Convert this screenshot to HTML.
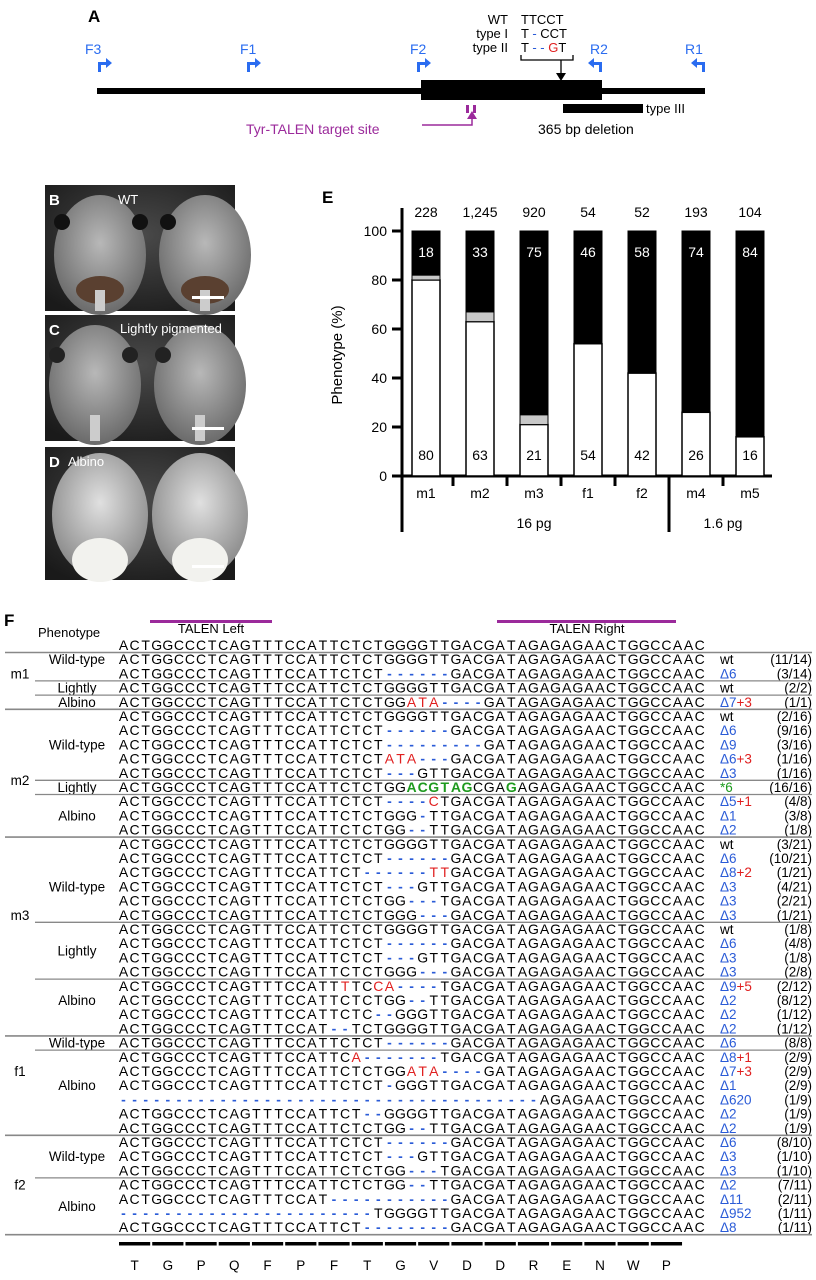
<!DOCTYPE html>
<html><head><meta charset="utf-8"><style>
html,body{margin:0;padding:0;background:#fff;}
svg{display:block;font-family:"Liberation Sans",Arial,sans-serif;}
</style></head><body>
<svg id="fig" width="816" height="1280" viewBox="0 0 816 1280" xmlns="http://www.w3.org/2000/svg">
<defs>
<radialGradient id="bgB" cx="50%" cy="40%" r="70%"><stop offset="0" stop-color="#4a4a4a"/><stop offset="1" stop-color="#1a1a1a"/></radialGradient>
<radialGradient id="headB" cx="50%" cy="40%" r="60%"><stop offset="0" stop-color="#b8b8b8"/><stop offset="1" stop-color="#6a6a6a"/></radialGradient>
<radialGradient id="headD" cx="50%" cy="40%" r="60%"><stop offset="0" stop-color="#e0e0e0"/><stop offset="1" stop-color="#8a8a8a"/></radialGradient>
</defs>

<!-- Panel A -->
<g>
<text x="88" y="22" font-size="17" font-weight="bold">A</text>
<rect x="97" y="88" width="608" height="6" fill="#000"/>
<rect x="421" y="80" width="181" height="20" fill="#000"/>
<g font-size="13" fill="#000" text-anchor="end">
<text x="508" y="24">WT</text><text x="508" y="38">type I</text><text x="508" y="52">type II</text></g>
<g font-size="13" fill="#000">
<text x="521" y="24">TTCCT</text>
<text x="521" y="38">T <tspan fill="#2a5bd7">-</tspan> CCT</text>
<text x="521" y="52">T <tspan fill="#2a5bd7">- -</tspan> <tspan fill="#e02020">G</tspan>T</text></g>
<path d="M521 55 V60 H573 V55 M561 60 V75" stroke="#000" stroke-width="1.3" fill="none"/>
<path d="M556 73 L566 73 L561 81 Z" fill="#000"/>
<g fill="#2a6cf0" font-size="14">
<text x="85" y="54">F3</text><text x="240" y="54">F1</text><text x="410" y="54">F2</text><text x="590" y="54">R2</text><text x="685" y="54">R1</text>
<path d="M98 72 V62 H106 V58 L112 63 L106 68 V65 H101 V72 Z"/>
<path d="M247 72 V62 H255 V58 L261 63 L255 68 V65 H250 V72 Z"/>
<path d="M417 72 V62 H425 V58 L431 63 L425 68 V65 H420 V72 Z"/>
<path d="M602 72 V62 H594 V58 L588 63 L594 68 V65 H599 V72 Z"/>
<path d="M705 72 V62 H697 V58 L691 63 L697 68 V65 H702 V72 Z"/></g>
<rect x="466" y="105" width="3" height="8" fill="#9b2a9b"/>
<rect x="473" y="105" width="3" height="8" fill="#9b2a9b"/>
<path d="M422 125 H472 V117" stroke="#9b2a9b" stroke-width="1.5" fill="none"/>
<path d="M467 119 L472 111 L477 119 Z" fill="#9b2a9b"/>
<text x="246" y="134" font-size="14" fill="#9b2a9b">Tyr-TALEN target site</text>
<rect x="563" y="104" width="80" height="9" fill="#000"/>
<text x="646" y="113" font-size="13">type III</text>
<text x="538" y="134" font-size="14">365 bp deletion</text>
</g>

<!-- Photos -->
<g>
<rect x="45" y="185" width="190" height="126" fill="url(#bgB)"/>
<ellipse cx="100" cy="255" rx="46" ry="60" fill="url(#headB)"/><ellipse cx="205" cy="255" rx="46" ry="60" fill="url(#headB)"/>
<circle cx="62" cy="222" r="8" fill="#111"/><circle cx="140" cy="222" r="8" fill="#111"/><circle cx="168" cy="222" r="8" fill="#111"/>
<ellipse cx="100" cy="290" rx="24" ry="14" fill="#5a4030"/><ellipse cx="205" cy="290" rx="24" ry="14" fill="#5a4030"/>
<rect x="95" y="290" width="10" height="21" fill="#ccc"/><rect x="200" y="290" width="10" height="21" fill="#ccc"/>
<rect x="192" y="296" width="32" height="3" fill="#fff"/>
<text x="49" y="205" font-size="15" font-weight="bold" fill="#fff">B</text>
<text x="118" y="204" font-size="13" fill="#fff">WT</text></g>
<g>
<rect x="45" y="315" width="190" height="126" fill="url(#bgB)"/>
<ellipse cx="95" cy="385" rx="46" ry="60" fill="url(#headB)"/><ellipse cx="200" cy="385" rx="46" ry="60" fill="url(#headB)"/>
<circle cx="57" cy="355" r="8" fill="#222"/><circle cx="130" cy="355" r="8" fill="#222"/><circle cx="163" cy="355" r="8" fill="#222"/>
<rect x="90" y="415" width="10" height="26" fill="#ccc"/><rect x="195" y="415" width="10" height="26" fill="#ccc"/>
<rect x="192" y="427" width="32" height="3" fill="#fff"/>
<text x="49" y="335" font-size="15" font-weight="bold" fill="#fff">C</text>
<text x="120" y="333" font-size="13" fill="#fff">Lightly pigmented</text></g>
<g>
<rect x="45" y="447" width="190" height="133" fill="url(#bgB)"/>
<ellipse cx="100" cy="515" rx="48" ry="62" fill="url(#headD)"/><ellipse cx="200" cy="515" rx="48" ry="62" fill="url(#headD)"/>
<ellipse cx="100" cy="560" rx="28" ry="22" fill="#f2f2ee"/><ellipse cx="200" cy="560" rx="28" ry="22" fill="#f2f2ee"/>
<rect x="192" y="565" width="32" height="3" fill="#fff"/>
<text x="49" y="467" font-size="15" font-weight="bold" fill="#fff">D</text>
<text x="68" y="466" font-size="13" fill="#fff">Albino</text></g>

<!-- Panel E -->
<g id="chartE">
<text x="322" y="203" font-size="17" font-weight="bold">E</text>
</g>

<!-- Panel F -->
<g id="panelF">
<text x="4" y="626" font-size="17" font-weight="bold">F</text>
<text x="38" y="637" font-size="13">Phenotype</text>
<rect x="150" y="620" width="122" height="3" fill="#9b2a9b"/>
<text x="211" y="633" font-size="13" text-anchor="middle">TALEN Left</text>
<rect x="497" y="620" width="179" height="3" fill="#9b2a9b"/>
<text x="587" y="633" font-size="13" text-anchor="middle">TALEN Right</text>
</g>
</svg>
<script>
// ---------- Panel E data ----------
const groups=['m1','m2','m3','f1','f2','m4','m5'];
const totals=['228','1,245','920','54','52','193','104'];
const wildType=[80,63,21,54,42,26,16];
const lightly=[2,4,4,0,0,0,0];
const albino=[18,33,75,46,58,74,84];
const yTicks=[0,20,40,60,80,100];

const NS='http://www.w3.org/2000/svg';
function mk(tag,attrs,parent,txt){const e=document.createElementNS(NS,tag);for(const k in attrs)e.setAttribute(k,attrs[k]);if(txt!==undefined)e.textContent=txt;parent.appendChild(e);return e;}
const E=document.getElementById('chartE');
const yS=v=>476-v*2.45;
const xC=i=>426+i*54;
const bw=28;
let ax=mk('path',{d:'M402 208 V532 M392 476 H772',stroke:'#000','stroke-width':3,fill:'none'},E);


yTicks.forEach(t=>{
  const tk=mk('line',{x1:392,x2:402,y1:yS(t),y2:yS(t),stroke:'#000','stroke-width':3},E);
  
  
  const tl=mk('text',{x:387,y:yS(t)+5,'font-size':14,'text-anchor':'end'},E,String(t));
  
  
});
const yl=mk('text',{x:342,y:355,'font-size':15,'text-anchor':'middle',transform:'rotate(-90 342 355)'},E,'Phenotype (%)');


groups.forEach((g,i)=>{
  const x=xC(i)-bw/2;
  const w=wildType[i], l=lightly[i], a=albino[i];
  const r1=mk('rect',{x:x,y:yS(w),width:bw,height:yS(0)-yS(w),fill:'#fff',stroke:'#000','stroke-width':1.5},E);
  
  
  if(l>0){const r2=mk('rect',{x:x,y:yS(w+l),width:bw,height:yS(w)-yS(w+l),fill:'#c8c8c8',stroke:'#000','stroke-width':1},E);
  
  }
  const r3=mk('rect',{x:x,y:yS(w+l+a),width:bw,height:yS(w+l)-yS(w+l+a),fill:'#000',stroke:'#000','stroke-width':1},E);
  
  
  const t1=mk('text',{x:xC(i),y:217,'font-size':14,'text-anchor':'middle'},E,totals[i]);
  
  
  const t2=mk('text',{x:xC(i),y:257,'font-size':14,'text-anchor':'middle',fill:'#fff'},E,String(a));
  
  
  const t3=mk('text',{x:xC(i),y:460,'font-size':14,'text-anchor':'middle'},E,String(w));
  
  
  const t4=mk('text',{x:xC(i),y:498,'font-size':14,'text-anchor':'middle'},E,g);
  
  
  if(i>0){const sx=(xC(i-1)+xC(i))/2;
    const tk=mk('line',{x1:sx,x2:sx,y1:476,y2:(i===5?532:486),stroke:'#000','stroke-width':3},E);
    
    }
});
const d1=mk('text',{x:(xC(0)+xC(4))/2,y:528,'font-size':14,'text-anchor':'middle'},E,'16 pg');


const d2=mk('text',{x:(xC(5)+xC(6))/2,y:528,'font-size':14,'text-anchor':'middle'},E,'1.6 pg');



// ---------- Panel F data ----------
const refSeq='ACTGGCCCTCAGTTTCCATTCTCTGGGGTTGACGATAGAGAGAACTGGCCAAC';
const seqRows=[
['ACTGGCCCTCAGTTTCCATTCTCTGGGGTTGACGATAGAGAGAACTGGCCAAC','wt','','(11/14)'],
['ACTGGCCCTCAGTTTCCATTCTCT------GACGATAGAGAGAACTGGCCAAC','Δ6','','(3/14)'],
['ACTGGCCCTCAGTTTCCATTCTCTGGGGTTGACGATAGAGAGAACTGGCCAAC','wt','','(2/2)'],
['ACTGGCCCTCAGTTTCCATTCTCTGGata----GATAGAGAGAACTGGCCAAC','Δ7','+3','(1/1)'],
['ACTGGCCCTCAGTTTCCATTCTCTGGGGTTGACGATAGAGAGAACTGGCCAAC','wt','','(2/16)'],
['ACTGGCCCTCAGTTTCCATTCTCT------GACGATAGAGAGAACTGGCCAAC','Δ6','','(9/16)'],
['ACTGGCCCTCAGTTTCCATTCTCT---------GATAGAGAGAACTGGCCAAC','Δ9','','(3/16)'],
['ACTGGCCCTCAGTTTCCATTCTCTata---GACGATAGAGAGAACTGGCCAAC','Δ6','+3','(1/16)'],
['ACTGGCCCTCAGTTTCCATTCTCT---GTTGACGATAGAGAGAACTGGCCAAC','Δ3','','(1/16)'],
['ACTGGCCCTCAGTTTCCATTCTCTGG[ACGTAG]CGA[G]AGAGAGAACTGGCCAAC','*6','','(16/16)'],
['ACTGGCCCTCAGTTTCCATTCTCT----cTGACGATAGAGAGAACTGGCCAAC','Δ5','+1','(4/8)'],
['ACTGGCCCTCAGTTTCCATTCTCTGGG-TTGACGATAGAGAGAACTGGCCAAC','Δ1','','(3/8)'],
['ACTGGCCCTCAGTTTCCATTCTCTGG--TTGACGATAGAGAGAACTGGCCAAC','Δ2','','(1/8)'],
['ACTGGCCCTCAGTTTCCATTCTCTGGGGTTGACGATAGAGAGAACTGGCCAAC','wt','','(3/21)'],
['ACTGGCCCTCAGTTTCCATTCTCT------GACGATAGAGAGAACTGGCCAAC','Δ6','','(10/21)'],
['ACTGGCCCTCAGTTTCCATTCT------ttGACGATAGAGAGAACTGGCCAAC','Δ8','+2','(1/21)'],
['ACTGGCCCTCAGTTTCCATTCTCT---GTTGACGATAGAGAGAACTGGCCAAC','Δ3','','(4/21)'],
['ACTGGCCCTCAGTTTCCATTCTCTGG---TGACGATAGAGAGAACTGGCCAAC','Δ3','','(2/21)'],
['ACTGGCCCTCAGTTTCCATTCTCTGGG---GACGATAGAGAGAACTGGCCAAC','Δ3','','(1/21)'],
['ACTGGCCCTCAGTTTCCATTCTCTGGGGTTGACGATAGAGAGAACTGGCCAAC','wt','','(1/8)'],
['ACTGGCCCTCAGTTTCCATTCTCT------GACGATAGAGAGAACTGGCCAAC','Δ6','','(4/8)'],
['ACTGGCCCTCAGTTTCCATTCTCT---GTTGACGATAGAGAGAACTGGCCAAC','Δ3','','(1/8)'],
['ACTGGCCCTCAGTTTCCATTCTCTGGG---GACGATAGAGAGAACTGGCCAAC','Δ3','','(2/8)'],
['ACTGGCCCTCAGTTTCCATTtTCca----TGACGATAGAGAGAACTGGCCAAC','Δ9','+5','(2/12)'],
['ACTGGCCCTCAGTTTCCATTCTCTGG--TTGACGATAGAGAGAACTGGCCAAC','Δ2','','(8/12)'],
['ACTGGCCCTCAGTTTCCATTCTC--GGGTTGACGATAGAGAGAACTGGCCAAC','Δ2','','(1/12)'],
['ACTGGCCCTCAGTTTCCAT--TCTGGGGTTGACGATAGAGAGAACTGGCCAAC','Δ2','','(1/12)'],
['ACTGGCCCTCAGTTTCCATTCTCT------GACGATAGAGAGAACTGGCCAAC','Δ6','','(8/8)'],
['ACTGGCCCTCAGTTTCCATTCa-------TGACGATAGAGAGAACTGGCCAAC','Δ8','+1','(2/9)'],
['ACTGGCCCTCAGTTTCCATTCTCTGGata----GATAGAGAGAACTGGCCAAC','Δ7','+3','(2/9)'],
['ACTGGCCCTCAGTTTCCATTCTCT-GGGTTGACGATAGAGAGAACTGGCCAAC','Δ1','','(2/9)'],
['--------------------------------------AGAGAACTGGCCAAC','Δ620','','(1/9)'],
['ACTGGCCCTCAGTTTCCATTCT--GGGGTTGACGATAGAGAGAACTGGCCAAC','Δ2','','(1/9)'],
['ACTGGCCCTCAGTTTCCATTCTCTGG--TTGACGATAGAGAGAACTGGCCAAC','Δ2','','(1/9)'],
['ACTGGCCCTCAGTTTCCATTCTCT------GACGATAGAGAGAACTGGCCAAC','Δ6','','(8/10)'],
['ACTGGCCCTCAGTTTCCATTCTCT---GTTGACGATAGAGAGAACTGGCCAAC','Δ3','','(1/10)'],
['ACTGGCCCTCAGTTTCCATTCTCTGG---TGACGATAGAGAGAACTGGCCAAC','Δ3','','(1/10)'],
['ACTGGCCCTCAGTTTCCATTCTCTGG--TTGACGATAGAGAGAACTGGCCAAC','Δ2','','(7/11)'],
['ACTGGCCCTCAGTTTCCAT-----------GACGATAGAGAGAACTGGCCAAC','Δ11','','(2/11)'],
['-----------------------TGGGGTTGACGATAGAGAGAACTGGCCAAC','Δ952','','(1/11)'],
['ACTGGCCCTCAGTTTCCATTCT--------GACGATAGAGAGAACTGGCCAAC','Δ8','','(1/11)']
];
const mouseLabels=[['m1',2],['m2',9.5],['m3',19],['f1',30],['f2',38]];
const phenoLabels=[['Wild-type',1],['Lightly',3],['Albino',4],['Wild-type',7],['Lightly',10],['Albino',12],['Wild-type',17],['Lightly',21.5],['Albino',25],['Wild-type',28],['Albino',31],['Wild-type',36],['Albino',39.5]];
const fullLinesAfter=[0,4,13,27,34,41];
const subLinesAfter=[2,3,9,10,19,23,28,37];
const aminoAcids=['T','G','P','Q','F','P','F','T','G','V','D','D','R','E','N','W','P'];

const F=document.getElementById('panelF');
const rowY=i=>645+i*14.2;
const cx=j=>118+5.5+j*11.08;
function drawSeq(s,i,name){
  const t=mk('text',{y:rowY(i)+5,'font-size':14,'text-anchor':'middle'},F);
  
  
  let j=0,green=false;
  for(const ch of s){
    if(ch==='['){green=true;continue;}
    if(ch===']'){green=false;continue;}
    let fill='#000',fw='normal',c=ch;
    if(ch==='-'){fill='#2a5bd7';fw='bold';}
    else if(ch!==ch.toUpperCase()){fill='#e02020';c=ch.toUpperCase();}
    if(green){fill='#1e9a1e';fw='bold';}
    mk('tspan',{x:cx(j),fill:fill,'font-weight':fw},t,c);
    j++;
  }
}
drawSeq(refSeq,0,'reference-sequence');
seqRows.forEach((r,k)=>{
  const i=k+1;
  drawSeq(r[0],i,'sequence-row');
  const lab=mk('text',{x:720,y:rowY(i)+5,'font-size':13.5},F);
  
  
  const col=r[1]==='wt'?'#000':(r[1][0]==='*'?'#1e9a1e':'#2a5bd7');
  mk('tspan',{fill:col},lab,r[1]);
  if(r[2])mk('tspan',{fill:'#e02020'},lab,r[2]);
  const fr=mk('text',{x:812,y:rowY(i)+5,'font-size':13.5,'text-anchor':'end'},F,r[3]);
  
  
});
mouseLabels.forEach(m=>{
  const t=mk('text',{x:20,y:rowY(m[1])+5,'font-size':13.5,'text-anchor':'middle'},F,m[0]);
  
  
});
phenoLabels.forEach(p=>{
  const t=mk('text',{x:77,y:rowY(p[1])+5,'font-size':13.5,'text-anchor':'middle'},F,p[0]);
  
  
});
fullLinesAfter.forEach(i=>{
  const l=mk('line',{x1:5,x2:812,y1:rowY(i)+7.5,y2:rowY(i)+7.5,stroke:'#888','stroke-width':1.6},F);
  
  
});
subLinesAfter.forEach(i=>{
  const l=mk('line',{x1:35,x2:812,y1:rowY(i)+7.5,y2:rowY(i)+7.5,stroke:'#888','stroke-width':1.3},F);
  
  
});
aminoAcids.forEach((a,k)=>{
  const x0=118+k*33.24;
  const b=mk('rect',{x:x0+1,y:1242,width:31.2,height:3.5,fill:'#000'},F);
  
  
  const t=mk('text',{x:x0+16.6,y:1270,'font-size':13.5,'text-anchor':'middle'},F,a);
  
  
});
</script>
</body></html>
